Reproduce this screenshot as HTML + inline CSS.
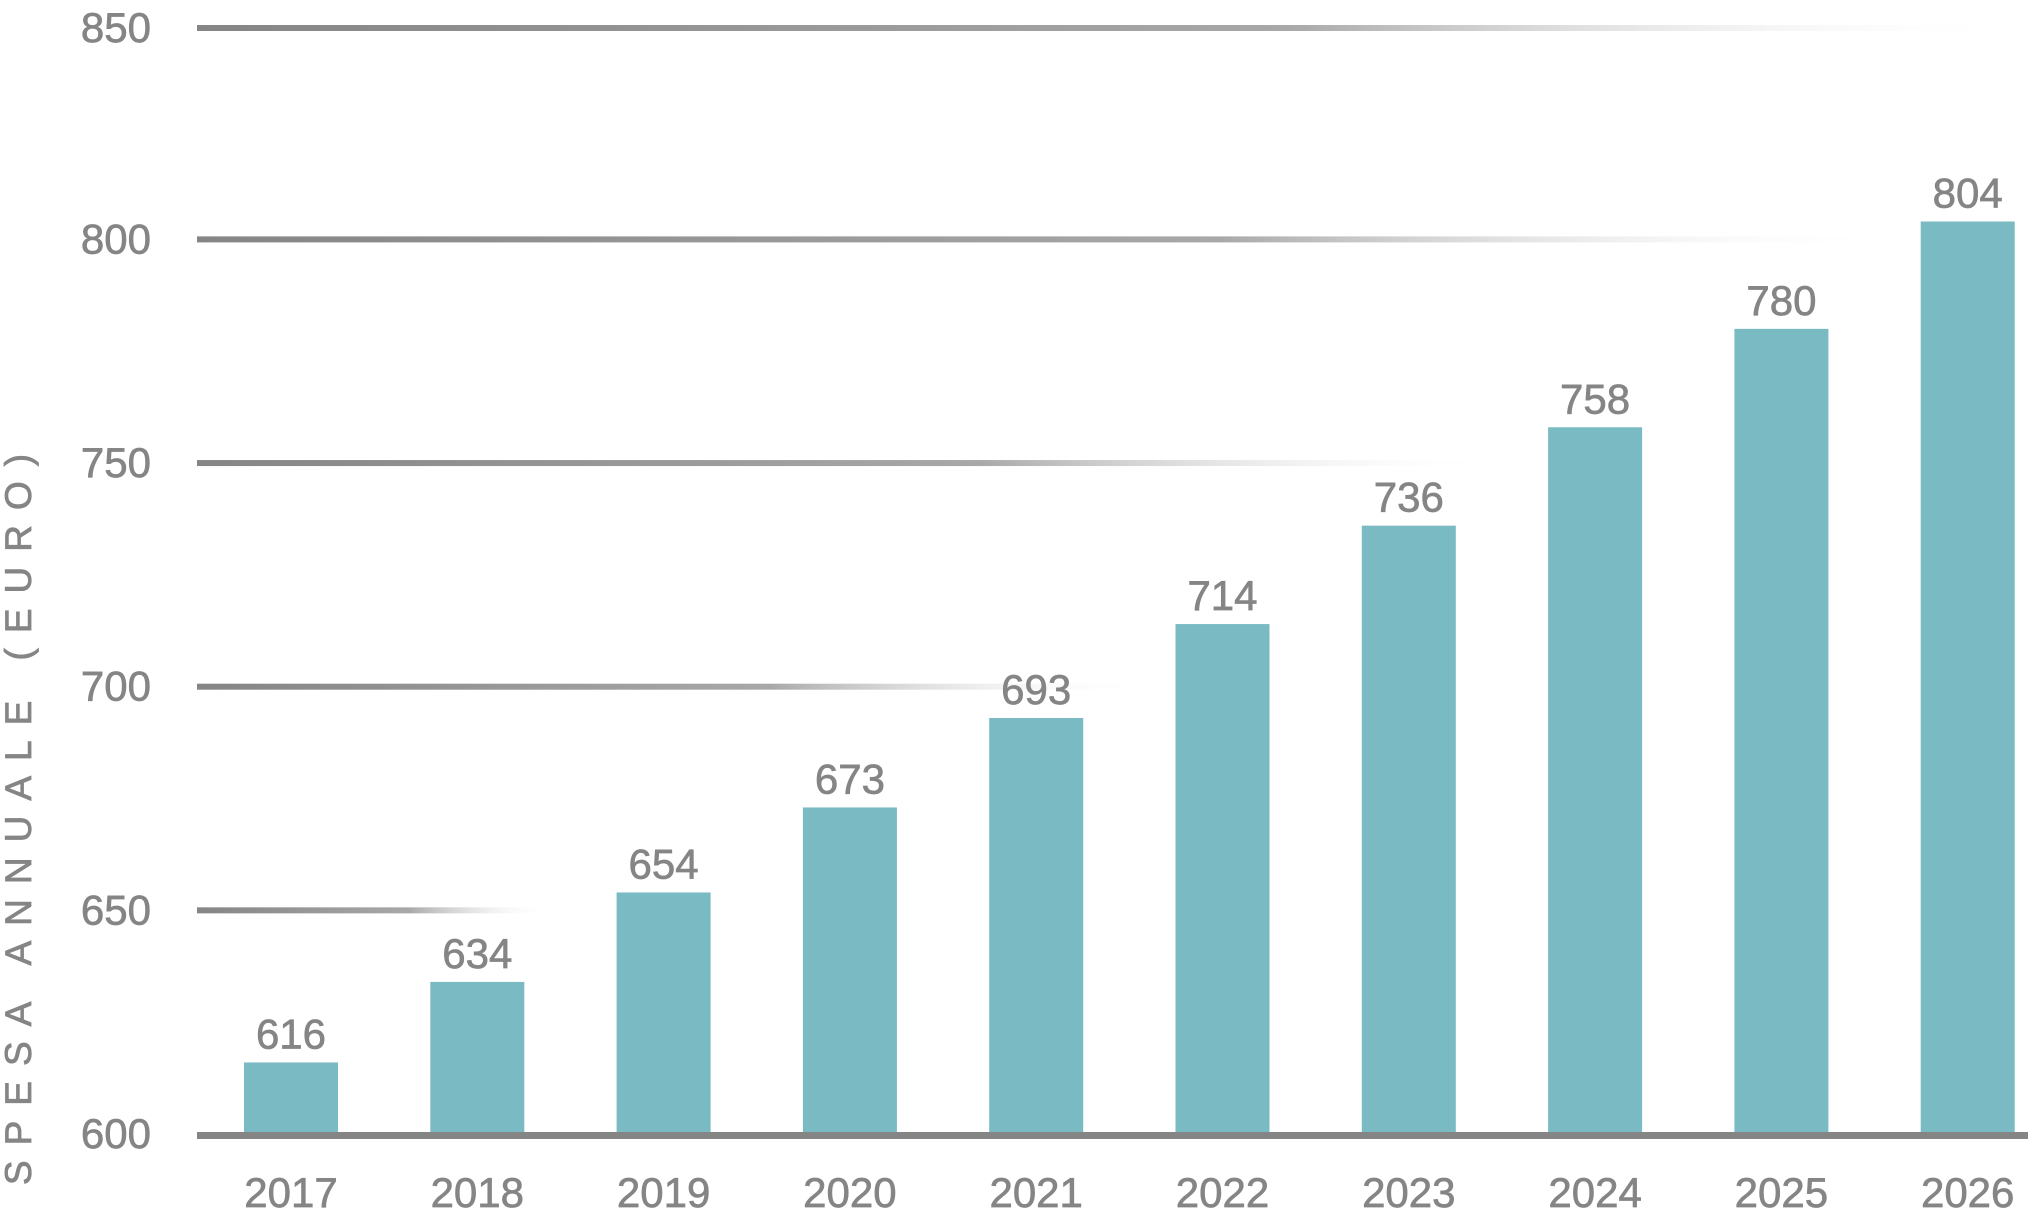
<!DOCTYPE html>
<html><head><meta charset="utf-8"><style>
html,body{margin:0;padding:0;background:#fff}
svg{display:block;font-family:"Liberation Sans",Arial,sans-serif}
</style></head><body>
<svg id="chart" width="2028" height="1209" viewBox="0 0 2028 1209" xmlns="http://www.w3.org/2000/svg">
<defs>
<linearGradient id="gl" x1="0" x2="1" y1="0" y2="0">
<stop offset="0" stop-color="#858585"/><stop offset="0.6" stop-color="#a8a8a8"/><stop offset="1" stop-color="#ffffff" stop-opacity="0"/>
</linearGradient>
</defs>
<g id="grid"></g>
<g id="bars"></g>
<rect x="197" y="1132" width="1831" height="7" fill="#858585"/>
<g id="labels"></g>
<text transform="translate(31,812) rotate(-90)" text-anchor="middle" font-size="37" fill="#858585" stroke="#858585" stroke-width="0.8" letter-spacing="15">SPESA ANNUALE (EURO)</text>
</svg>
<script>
const categories = ["2017","2018","2019","2020","2021","2022","2023","2024","2025","2026"];
const values = [616,634,654,673,693,714,736,758,780,804];
const ticks = [600,650,700,750,800,850];
const tickLabels = ["600","650","700","750","800","850"];
const NS="http://www.w3.org/2000/svg";
function y(v){return Math.max(28,1134-(v-600)*4.473);}
function x(i){return 244+i*186.3;}
const gridEnds={650:550,700:1150,750:1500,800:1900,850:2015};
const grid=document.getElementById('grid'),bars=document.getElementById('bars'),labels=document.getElementById('labels');
function mk(tag,attrs,parent,txt){const e=document.createElementNS(NS,tag);for(const k in attrs)e.setAttribute(k,attrs[k]);if(txt!==undefined)e.textContent=txt;parent.appendChild(e);return e;}
const ts={'font-size':42,fill:'#858585',stroke:'#858585','stroke-width':0.7};
ticks.forEach((t,i)=>{
  const yy=y(t);
  if(t>600){
    const r=mk('rect',{x:197,y:yy-3,width:gridEnds[t]-197,height:6,fill:'url(#gl)'},grid);
    
    
  }
  const tx=mk('text',Object.assign({x:151,y:yy+14,'text-anchor':'end'},ts),labels,tickLabels[i]);
  
  
});
categories.forEach((c,i)=>{
  const top=y(values[i]);
  const b=mk('rect',{x:x(i),y:top,width:94,height:1133-top,fill:'#7abac2'},bars);
  
  
  const v=mk('text',Object.assign({x:x(i)+47,y:top-14,'text-anchor':'middle'},ts),labels,String(values[i]));
  
  
  const xl=mk('text',Object.assign({x:x(i)+47,y:1207,'text-anchor':'middle'},ts),labels,c);
  
  
});
</script>
</body></html>
